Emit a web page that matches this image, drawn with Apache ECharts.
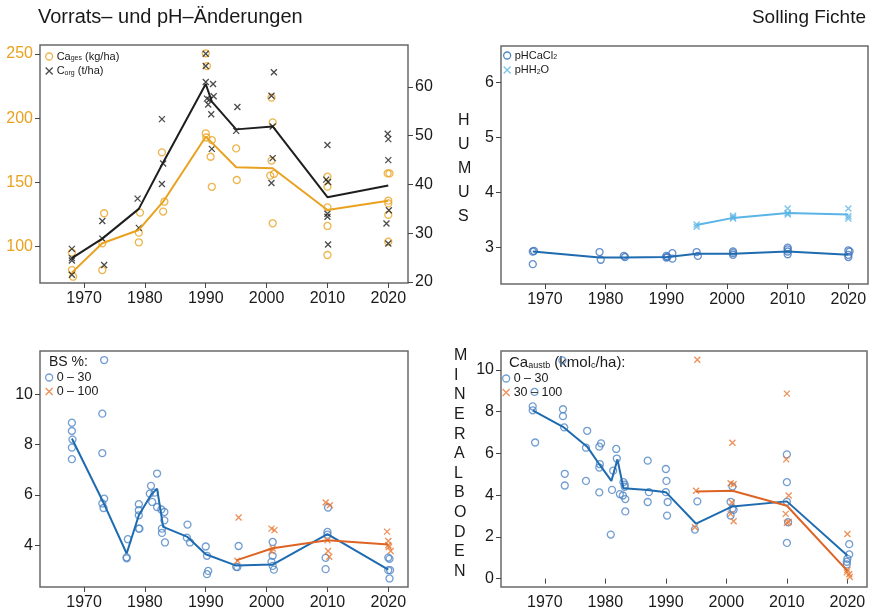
<!DOCTYPE html>
<html>
<head>
<meta charset="utf-8">
<script src="https://cdn.jsdelivr.net/npm/echarts@6/dist/echarts.min.js"></script>
<style>
  html, body { margin: 0; padding: 0; background: #fff; }
  #chart { width: 873px; height: 611px; }
</style>
</head>
<body>
<div id="chart"></div>
<script>
// ---- tick labels ----
const yearTicks = [1970, 1980, 1990, 2000, 2010, 2020];
const caTicks = [100, 150, 200, 250];
const corgTicks = [20, 30, 40, 50, 60];
const phTicks = [3, 4, 5, 6];
const bsTicks = [4, 6, 8, 10];
const caAustTicks = [0, 2, 4, 6, 8, 10];

// ---- Humus: Ca stock (kg/ha) and C org (t/ha) ----
const caGesPoints = [
  [1968, 95.3], [1968, 81.8], [1968.2, 76.6],
  [1973.3, 126], [1973, 102.6], [1973, 81.8],
  [1979.2, 126.5], [1979, 110.9], [1979, 103.4],
  [1982.8, 173.4], [1983.2, 135], [1983, 127.3],
  [1990, 250.5], [1990.2, 240.6], [1990, 188.2], [1990.1, 185], [1991, 183], [1990.8, 170], [1991, 146.6],
  [1995, 176.5], [1995.1, 151.9],
  [2000.8, 216], [2001, 196.8], [2000.8, 167], [2000.6, 155.3], [2001.2, 156.6], [2001, 118.2],
  [2010, 154.5], [2010, 146.7], [2010, 130.6], [2010, 116.1], [2010, 93.5],
  [2019.9, 157], [2020.2, 157], [2020, 135.8], [2020, 133.7], [2020, 124.7], [2020, 103.9]
];
const caGesMean = [
  [1968, 79.8], [1973, 102.6], [1979, 113], [1983, 135], [1990, 185.6], [1991, 181],
  [1995, 161.8], [2001, 161], [2010, 128.5], [2020, 135.8]
];
const cOrgPoints = [
  [1968, 26.8], [1968, 24.9], [1968, 24.4], [1968, 21.5],
  [1973, 32.5], [1973, 28.9], [1973.3, 23.5],
  [1978.8, 37.1], [1979, 31.1],
  [1982.8, 53.4], [1983, 44.3], [1982.8, 40.1],
  [1990, 66.8], [1990, 64.3], [1990, 61], [1990.2, 57.6], [1990.4, 56.4], [1990.6, 57.4],
  [1990.9, 54.4], [1991.2, 60.6], [1991.3, 58.1], [1991, 47.3],
  [1995.2, 55.9], [1995, 51],
  [2000.8, 58.2], [2001.2, 63], [2001, 51.9], [2001, 45.4], [2000.8, 40.3],
  [2010, 48.1], [2009.8, 41], [2010.1, 40.5], [2010, 34], [2010, 33.4], [2010.1, 27.7],
  [2019.9, 50.4], [2020, 49.3], [2020, 45], [2020.1, 34.7], [2019.7, 32], [2020, 27.9]
];
const cOrgMean = [
  [1968, 24.9], [1973, 28.9], [1979, 35], [1983, 44.5], [1990, 60.6], [1991, 57],
  [1995, 51.3], [2001, 51.9], [2010, 37.4], [2020, 39.8]
];

// ---- Humus: pH ----
const phCaCl2Points = [
  [1968, 2.93], [1968.2, 2.94], [1968, 2.70],
  [1979, 2.92], [1979.2, 2.78],
  [1983, 2.85], [1983.2, 2.83],
  [1990, 2.82], [1990.2, 2.83], [1990, 2.85], [1991, 2.90], [1991, 2.80],
  [1995, 2.92], [1995.2, 2.85],
  [2001, 2.93], [2001, 2.90], [2001, 2.87],
  [2010, 3.00], [2010, 2.97], [2010, 2.93], [2010, 2.88],
  [2020, 2.95], [2020.2, 2.93], [2020, 2.87], [2020, 2.83]
];
const phCaCl2Mean = [
  [1968, 2.93], [1979, 2.82], [1983, 2.82], [1990, 2.83], [1991, 2.84],
  [1995, 2.89], [2001, 2.89], [2010, 2.93], [2020, 2.87]
];
const phH2OPoints = [
  [1995, 3.38], [1995, 3.42],
  [2001, 3.58], [2001, 3.53], [2001, 3.55],
  [2010, 3.71], [2010, 3.63], [2010, 3.60],
  [2020, 3.71], [2020, 3.57], [2020, 3.53]
];
const phH2OMean = [[1995, 3.41], [2001, 3.54], [2010, 3.63], [2020, 3.60]];

// ---- Mineralboden: BS % ----
const bs030Points = [
  [1968, 8.87], [1968, 8.54], [1968.1, 8.2], [1968, 7.88], [1968, 7.42],
  [1973.3, 11.36], [1973, 9.23], [1973, 7.66], [1973.3, 5.85], [1973, 5.66], [1973.2, 5.48],
  [1977.2, 4.24], [1977, 3.48], [1977, 3.52],
  [1979, 5.63], [1979, 5.39], [1979, 5.19], [1979, 4.66], [1979.1, 4.66],
  [1981, 6.36], [1980.8, 6.05], [1981.2, 5.72],
  [1982, 6.85], [1981.6, 6.09], [1982, 5.52],
  [1982.7, 5.42], [1983.2, 5.32], [1983.2, 4.99], [1982.8, 4.66], [1982.8, 4.49], [1983.3, 4.11],
  [1987, 4.82], [1986.9, 4.30], [1987.4, 4.11],
  [1990, 3.95], [1990.2, 3.58], [1990.4, 2.98], [1990.2, 2.85],
  [1995.4, 3.97], [1995, 3.14], [1995.2, 3.13],
  [2001, 4.13], [2001, 3.58], [2000.8, 3.34], [2001, 3.18], [2001.2, 3.03],
  [2010.1, 5.5], [2010, 4.53], [2010, 4.42], [2009.7, 3.5], [2009.7, 3.05],
  [2020, 3.51], [2020.2, 3.46], [2020, 3.01], [2020.3, 3.01], [2020.2, 2.68]
];
const bs030Mean = [
  [1968, 8.24], [1973, 5.79], [1977, 3.67], [1979, 5.19], [1981, 6.0], [1982, 6.25],
  [1983, 4.73], [1987, 4.33], [1990, 3.64], [1995, 3.19], [2001, 3.23], [2010, 4.44], [2020, 3.03]
];
const bs0100Points = [
  [1995.4, 5.1], [1995.2, 3.38],
  [2000.8, 4.66], [2001.3, 4.6], [2001, 3.87], [2000.8, 3.76],
  [2009.7, 5.70], [2010.4, 5.59], [2010, 4.2], [2010.1, 3.77], [2010.3, 3.54],
  [2019.8, 4.54], [2020, 4.17], [2020, 4.0], [2020.1, 3.93], [2020.4, 3.77]
];
const bs0100Mean = [[1995, 3.40], [2001, 3.88], [2010, 4.2], [2020, 4.03]];

// ---- Mineralboden: exchangeable Ca (kmolc/ha) ----
const caAust030Points = [
  [1968.3, 8.94], [1968, 8.25], [1968, 8.06], [1968.4, 6.52],
  [1973, 8.11], [1973, 7.78], [1973.2, 7.24], [1973.3, 5.02], [1973.3, 4.46], [1972.9, 10.45],
  [1977, 7.08], [1976.8, 6.27], [1976.8, 4.68],
  [1979.3, 6.48], [1979, 6.32], [1979.1, 5.48], [1979, 5.32], [1979, 4.13],
  [1981.3, 5.17], [1981.1, 4.25], [1980.9, 2.11],
  [1981.8, 6.21], [1981.9, 5.75], [1982.4, 4.05],
  [1983, 4.62], [1983.2, 4.5], [1983.2, 4.4], [1982.9, 3.98], [1983.3, 3.81], [1983.3, 3.22],
  [1987, 5.65], [1987.2, 4.14], [1987, 3.67],
  [1990, 5.25], [1990.1, 4.68], [1990, 4.14], [1990.3, 3.67], [1990.2, 3.02],
  [1995.2, 3.7], [1994.8, 2.35],
  [2001, 4.41], [2000.7, 3.68], [2001, 3.35], [2001.2, 3.3], [2000.7, 3.02],
  [2010, 5.95], [2010, 4.62], [2010, 3.68], [2010.2, 2.7], [2010, 1.71],
  [2020.3, 1.65], [2020.3, 1.16], [2020, 0.95], [2019.9, 0.81], [2019.9, 0.68]
];
const caAust030Mean = [
  [1968, 8.06], [1973, 7.27], [1977, 6.32], [1979, 5.48], [1981, 4.68], [1982, 5.71],
  [1983, 4.33], [1987, 4.25], [1990, 4.14], [1995, 2.63], [2001, 3.46], [2010, 3.70], [2020, 1.11]
];
const caAust30100Points = [
  [1995.2, 10.48], [1995, 4.21], [1994.8, 2.46],
  [2001, 6.51], [2000.7, 4.57], [2001.2, 4.52], [2000.9, 3.65], [2000.7, 3.1], [2001.2, 2.75],
  [2010, 8.86], [2009.9, 5.71], [2010.3, 3.98], [2009.8, 3.1], [2010.3, 2.71], [2010, 2.67],
  [2020, 2.14], [2020, 0.41], [2019.9, 0.3], [2020.3, 0.21], [2020.4, 0.08]
];
const caAust30100Mean = [[1995, 4.17], [2001, 4.21], [2010, 3.49], [2020, 0.37]];

// ---- styling ----
const C_ORANGE_TOP = '#E8A21F';
const C_BLACK = '#1e1e1e';
const C_BLUE_PT = '#4F86C6';
const C_BLUE_LN = '#1F6BB0';
const C_SKY = '#5AB4E6';
const C_VERM_PT = '#E8742E';
const C_VERM_LN = '#DD6424';
const TXT = '#1a1a1a';
const FONT = 'Liberation Sans, Arial, Helvetica, sans-serif';
const CROSS = 'path://M0,0L10,10M10,0L0,10';

const grids = [
  { left: 40, top: 45, width: 368, height: 238 },
  { left: 501, top: 46, width: 367, height: 238 },
  { left: 40, top: 351, width: 368, height: 236 },
  { left: 501, top: 351, width: 366, height: 237 }
].map(g => Object.assign(g, { show: true, borderColor: '#6a6a6a', borderWidth: 1.5, backgroundColor: 'transparent' }));

const plain = v => String(v);

function xAxisFor(gi) {
  return {
    type: 'value', gridIndex: gi, min: 1962.76, max: 2023.24,
    axisLine: { show: false }, splitLine: { show: false },
    axisTick: { show: true, length: 5, customValues: yearTicks, lineStyle: { color: '#444', width: 1 } },
    axisLabel: { customValues: yearTicks, formatter: plain, fontSize: 16, color: TXT, fontFamily: FONT, margin: 8 }
  };
}
function yAxisFor(gi, min, max, ticks, opts) {
  opts = opts || {};
  return {
    type: 'value', gridIndex: gi, min: min, max: max, position: opts.position || 'left',
    axisLine: { show: false }, splitLine: { show: false },
    axisTick: { show: true, length: 5, customValues: ticks, lineStyle: { color: '#444', width: 1 } },
    axisLabel: { customValues: ticks, formatter: plain, fontSize: 16, color: opts.color || TXT, fontFamily: FONT, margin: 7 }
  };
}

function pts(name, data, xi, yi, color, cross) {
  return {
    name: name, type: 'scatter', xAxisIndex: xi, yAxisIndex: yi, data: data,
    symbol: cross ? CROSS : 'circle', symbolSize: cross ? 6 : 7,
    itemStyle: { color: 'transparent', borderColor: color, borderWidth: 1.3 },
    z: 2
  };
}
function mean(name, data, xi, yi, color) {
  return {
    name: name, type: 'line', xAxisIndex: xi, yAxisIndex: yi, data: data,
    symbol: 'none', lineStyle: { color: color, width: 2 }, z: 3
  };
}

function legendItem(name, color, cross) {
  return {
    name: name, icon: cross ? CROSS : 'circle',
    itemStyle: { color: 'transparent', borderColor: color, borderWidth: 1.3 }
  };
}
const richSub = {
  n: { fontSize: 11, lineHeight: 12, color: TXT, fontFamily: FONT },
  s: { fontSize: 7, lineHeight: 8, color: TXT, fontFamily: FONT, padding: [4, 0, 0, 0] },
  m: { fontSize: 12.5, lineHeight: 12, color: TXT, fontFamily: FONT }
};
const legendLabels = {
  'Ca_ges': '{n|Ca}{s|ges}{n| (kg/ha)}',
  'C_org': '{n|C}{s|org}{n| (t/ha)}',
  'pHCaCl2': '{n|pHCaCl}{s|2}',
  'pHH2O': '{n|pHH}{s|2}{n|O}',
  'BS 0-30': '{m|0 – 30}',
  'BS 0-100': '{m|0 – 100}',
  'Ca 0-30': '{m|0 – 30}',
  'Ca 30-100': '{m|30 – 100}'
};
function legendFor(items, left, top, gap) {
  return {
    orient: 'vertical', left: left, top: top, itemWidth: 7, itemHeight: 7, itemGap: gap,
    padding: 0, selectedMode: false, data: items,
    formatter: n => legendLabels[n],
    textStyle: { rich: richSub, padding: [0, 0, 0, -1] }
  };
}

function vertical(text, x, y, lh) {
  return {
    type: 'text', left: x, top: y,
    style: { text: text.split('').join('\n'), fontSize: 16, lineHeight: lh, fill: TXT, font: '16px ' + FONT, align: 'center' }
  };
}

const option = {
  animation: false,
  backgroundColor: '#fff',
  textStyle: { fontFamily: FONT },
  grid: grids,
  xAxis: [xAxisFor(0), xAxisFor(1), xAxisFor(2), xAxisFor(3)],
  yAxis: [
    yAxisFor(0, 71.7, 257, caTicks, { color: C_ORANGE_TOP }),
    yAxisFor(0, 19.8, 68.6, corgTicks, { position: 'right' }),
    yAxisFor(1, 2.34, 6.66, phTicks),
    yAxisFor(2, 2.34, 11.72, bsTicks),
    yAxisFor(3, -0.4, 10.9, caAustTicks)
  ],
  legend: [
    legendFor([legendItem('Ca_ges', C_ORANGE_TOP, false), legendItem('C_org', C_BLACK, true)], 45, 51, 3.5),
    legendFor([legendItem('pHCaCl2', C_BLUE_LN, false), legendItem('pHH2O', C_SKY, true)], 503, 50, 3.5),
    legendFor([legendItem('BS 0-30', C_BLUE_PT, false), legendItem('BS 0-100', C_VERM_PT, true)], 45, 371, 1),
    legendFor([legendItem('Ca 0-30', C_BLUE_PT, false), legendItem('Ca 30-100', C_VERM_PT, true)], 502, 372, 1)
  ],
  graphic: [
    { type: 'text', left: 38, top: 7, style: { text: 'Vorrats– und pH–Änderungen', font: '20px ' + FONT, fill: TXT } },
    { type: 'text', right: 7, top: 8, style: { text: 'Solling Fichte', font: '19px ' + FONT, fill: TXT } },
    vertical('HUMUS', 458, 108, 24.2),
    vertical('MINERALBODEN', 454, 346, 19.6),
    { type: 'text', left: 49, top: 355, style: { text: 'BS %:', font: '14px ' + FONT, fill: TXT } },
    {
      type: 'text', left: 509, top: 355,
      style: {
        text: '{t|Ca}{u|austb}{t| (kmol}{u|c}{t|/ha):}',
        rich: {
          t: { fontSize: 15, fontFamily: FONT, fill: TXT, color: TXT },
          u: { fontSize: 9, fontFamily: FONT, fill: TXT, color: TXT, padding: [6, 0, 0, 0] }
        }
      }
    }
  ],
  series: [
    pts('Ca_ges', caGesPoints, 0, 0, C_ORANGE_TOP, false),
    pts('C_org', cOrgPoints, 0, 1, C_BLACK, true),
    mean('Ca_ges mean', caGesMean, 0, 0, C_ORANGE_TOP),
    mean('C_org mean', cOrgMean, 0, 1, C_BLACK),

    pts('pHCaCl2', phCaCl2Points, 1, 2, '#3F74BF', false),
    pts('pHH2O', phH2OPoints, 1, 2, C_SKY, true),
    mean('pHCaCl2 mean', phCaCl2Mean, 1, 2, C_BLUE_LN),
    mean('pHH2O mean', phH2OMean, 1, 2, C_SKY),

    pts('BS 0-30', bs030Points, 2, 3, C_BLUE_PT, false),
    pts('BS 0-100', bs0100Points, 2, 3, C_VERM_PT, true),
    mean('BS 0-30 mean', bs030Mean, 2, 3, C_BLUE_LN),
    mean('BS 0-100 mean', bs0100Mean, 2, 3, C_VERM_LN),

    pts('Ca 0-30', caAust030Points, 3, 4, C_BLUE_PT, false),
    pts('Ca 30-100', caAust30100Points, 3, 4, C_VERM_PT, true),
    mean('Ca 0-30 mean', caAust030Mean, 3, 4, C_BLUE_LN),
    mean('Ca 30-100 mean', caAust30100Mean, 3, 4, C_VERM_LN)
  ]
};

const chart = echarts.init(document.getElementById('chart'), null, { renderer: 'canvas' });
chart.setOption(option);
</script>
</body>
</html>
